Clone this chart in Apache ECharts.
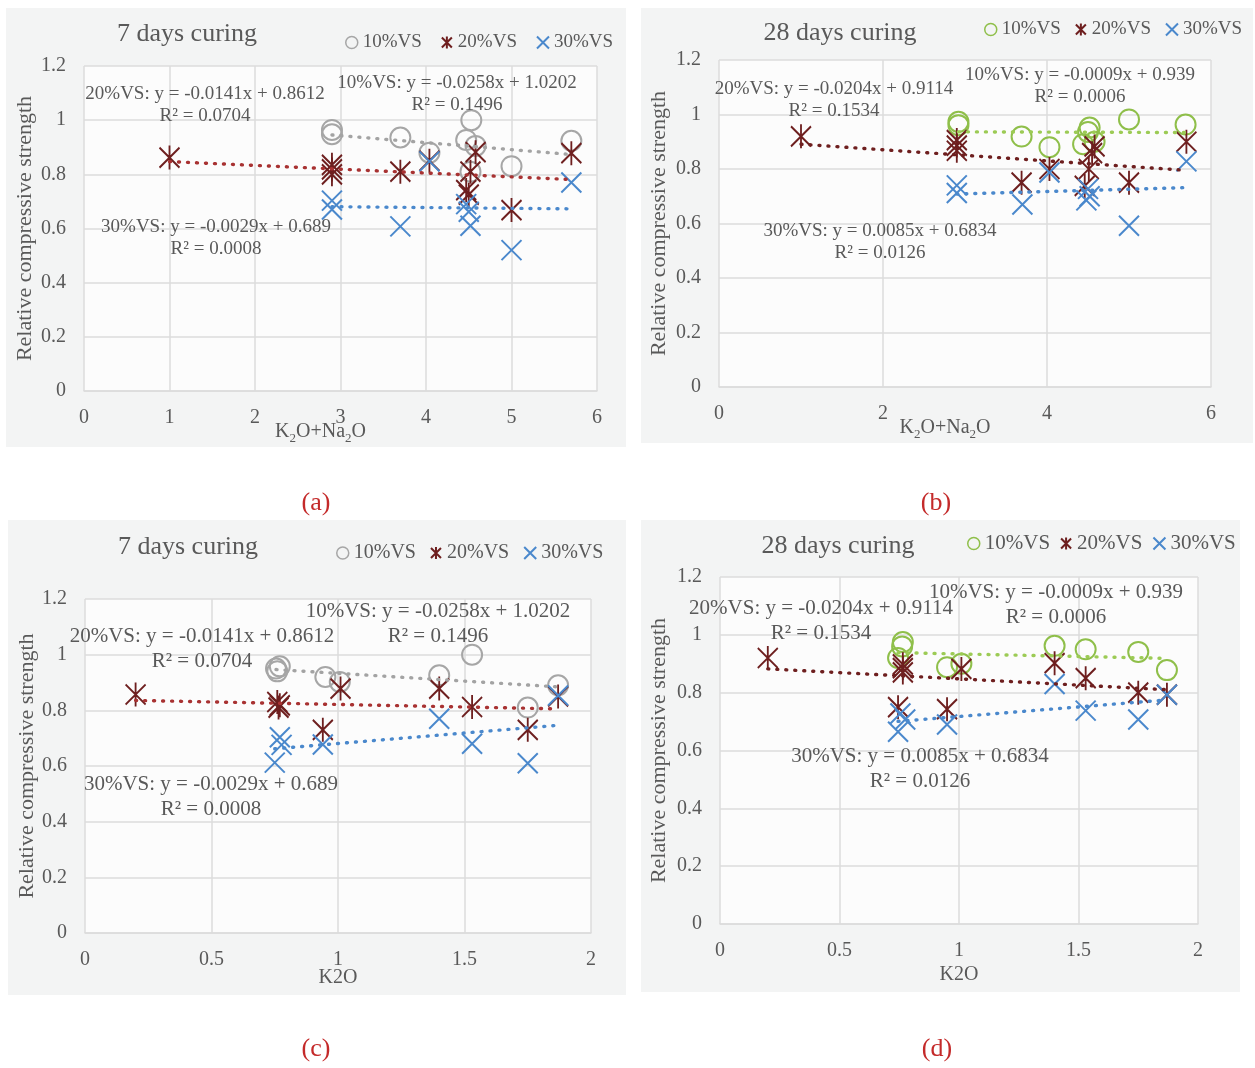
<!DOCTYPE html>
<html>
<head>
<meta charset="utf-8">
<script src="https://cdn.jsdelivr.net/npm/echarts@6/dist/echarts.min.js"></script>
<style>
  html, body { margin: 0; padding: 0; background: #ffffff; }
  #chart { width: 1255px; height: 1068px; }
</style>
</head>
<body>
<div id="chart"></div>
<script>
// ---------------- data ----------------
const seriesNames = ['10%VS', '20%VS', '30%VS'];
const panelTitles = ['7 days curing', '28 days curing', '7 days curing', '28 days curing'];
const panelCaptions = ['(a)', '(b)', '(c)', '(d)'];
const yAxisName = 'Relative compressive strength';

// tick labels
const yTicks = [0, 0.2, 0.4, 0.6, 0.8, 1, 1.2];
const xTicksA = [0, 1, 2, 3, 4, 5, 6];
const xTicksB = [0, 2, 4, 6];
const xTicksK2O = [0, 0.5, 1, 1.5, 2];

// (a) 7 days curing vs K2O+Na2O
const a10x = [2.9, 2.9, 3.7, 4.04, 4.47, 4.53, 4.58, 4.52, 5.0, 5.7];
const a10y = [0.964, 0.948, 0.936, 0.88, 0.927, 1.0, 0.905, 0.81, 0.83, 0.924];
const a20x = [1.0, 2.9, 2.9, 2.9, 3.7, 4.04, 4.58, 4.52, 4.47, 4.5, 5.0, 5.7];
const a20y = [0.862, 0.835, 0.818, 0.80, 0.81, 0.85, 0.882, 0.81, 0.742, 0.725, 0.668, 0.878];
const a30x = [2.9, 2.9, 3.7, 4.04, 4.47, 4.5, 4.52, 5.0, 5.7];
const a30y = [0.703, 0.67, 0.608, 0.848, 0.69, 0.662, 0.61, 0.52, 0.77];

// (b) 28 days curing vs K2O+Na2O
const b10x = [2.92, 2.92, 3.69, 4.03, 4.52, 4.5, 4.44, 4.58, 5.0, 5.69];
const b10y = [0.973, 0.961, 0.919, 0.88, 0.952, 0.936, 0.891, 0.9, 0.982, 0.963];
const b20x = [1.0, 2.9, 2.9, 2.9, 3.69, 4.03, 4.58, 4.55, 4.51, 4.46, 5.0, 5.7];
const b20y = [0.92, 0.906, 0.886, 0.867, 0.75, 0.80, 0.883, 0.858, 0.80, 0.738, 0.75, 0.90];
const b30x = [2.9, 2.9, 3.7, 4.03, 4.5, 4.52, 4.48, 5.0, 5.7];
const b30y = [0.74, 0.712, 0.67, 0.787, 0.727, 0.70, 0.685, 0.592, 0.828];

// (c) 7 days curing vs K2O
const c10x = [0.755, 0.77, 0.76, 0.95, 1.007, 1.40, 1.53, 1.75, 1.87];
const c10y = [0.95, 0.958, 0.94, 0.92, 0.902, 0.926, 1.0, 0.81, 0.89];
const c20x = [0.2, 0.76, 0.77, 0.765, 0.94, 1.01, 1.40, 1.53, 1.75, 1.87];
const c20y = [0.857, 0.83, 0.818, 0.81, 0.73, 0.878, 0.878, 0.812, 0.73, 0.85];
const c30x = [0.77, 0.777, 0.75, 0.94, 1.40, 1.53, 1.75, 1.87];
const c30y = [0.703, 0.676, 0.612, 0.677, 0.77, 0.68, 0.61, 0.853];

// (d) 28 days curing vs K2O
const d10x = [0.765, 0.762, 0.745, 0.95, 1.01, 1.40, 1.53, 1.75, 1.87];
const d10y = [0.975, 0.96, 0.92, 0.888, 0.90, 0.962, 0.95, 0.941, 0.878];
const d20x = [0.2, 0.765, 0.765, 0.765, 0.745, 0.95, 1.01, 1.40, 1.53, 1.75, 1.87];
const d20y = [0.92, 0.898, 0.885, 0.87, 0.75, 0.743, 0.882, 0.902, 0.85, 0.80, 0.793];
const d30x = [0.755, 0.775, 0.745, 0.95, 1.40, 1.53, 1.75, 1.87];
const d30y = [0.728, 0.707, 0.665, 0.69, 0.83, 0.738, 0.707, 0.793];

// fitted equations printed on the charts (10%VS, 20%VS, 30%VS)
const eqSlope7 = [-0.0258, -0.0141, -0.0029];
const eqIntercept7 = [1.0202, 0.8612, 0.689];
const eqR2_7 = ['0.1496', '0.0704', '0.0008'];
const eqSlope28 = [-0.0009, -0.0204, 0.0085];
const eqIntercept28 = [0.939, 0.9114, 0.6834];
const eqR2_28 = ['0.0006', '0.1534', '0.0126'];

// ---------------- styling ----------------
const FONT = '"Liberation Serif", "Times New Roman", serif';
const TEXT = '#595959';
const GRIDLINE = '#dcdcdc';
const PANEL_BG = '#f3f4f4';
const PLOT_BG = '#fcfcfc';

const SYM_CIRCLE = 'circle';
const SYM_STAR = 'path://M0,1L10,11M10,1L0,11M5,0L5,12';
const SYM_CROSS = 'path://M0,0L10,10M10,0L0,10';
const symbols = [SYM_CIRCLE, SYM_STAR, SYM_CROSS];
const symbolSizes = [20, [20, 24], 20];

const markerGray = ['#a6a6a6', '#6e1f1f', '#4a88cc'];
const markerGreen = ['#8fbf4a', '#6e1f1f', '#4a88cc'];
const trendGray = ['#a3a3a3', '#a83232', '#4a88cc'];
const trendGreen = ['#9ccb55', '#6e1f1f', '#4a88cc'];

function fitLine(xs, ys) {
  const n = xs.length;
  const mx = xs.reduce((s, v) => s + v, 0) / n;
  const my = ys.reduce((s, v) => s + v, 0) / n;
  let sxy = 0, sxx = 0;
  for (let i = 0; i < n; i++) {
    sxy += (xs[i] - mx) * (ys[i] - my);
    sxx += (xs[i] - mx) * (xs[i] - mx);
  }
  const slope = sxy / sxx;
  return { slope: slope, intercept: my - slope * mx };
}

function eqText(i, slopes, intercepts, r2s) {
  return seriesNames[i] + ': y = ' + String(slopes[i]) + 'x + ' + String(intercepts[i]) + '\nR\u00B2 = ' + r2s[i];
}

// panel layout (pixel positions only)
const panels = [
  {
    xs: [a10x, a20x, a30x], ys: [a10y, a20y, a30y], xTicks: xTicksA, sumAxis: true,
    coef: [0, 1, 2].map(i => ({ slope: eqSlope7[i], intercept: eqIntercept7[i] })),
    eq: [0, 1, 2].map(i => eqText(i, eqSlope7, eqIntercept7, eqR2_7)),
    markers: markerGray, trends: trendGray,
    bg: [6, 8, 620, 439], grid: [84, 66, 513, 325],
    title: [187, 21], legend: { left: 345, top: 33, size: 19, gap: 19 },
    eqPos: [[457, 83], [205, 94], [216, 227]], eqFont: 19, eqLH: 22,
    caption: [316, 503], xNameGap: 28, xNamePad: 40, yNameGap: 48
  },
  {
    xs: [b10x, b20x, b30x], ys: [b10y, b20y, b30y], xTicks: xTicksB, sumAxis: true,
    coef: [0, 1, 2].map(i => ({ slope: eqSlope28[i], intercept: eqIntercept28[i] })),
    eq: [0, 1, 2].map(i => eqText(i, eqSlope28, eqIntercept28, eqR2_28)),
    markers: markerGreen, trends: trendGreen,
    bg: [641, 8, 612, 435], grid: [719, 60, 492, 327],
    title: [840, 20], legend: { left: 984, top: 20, size: 19, gap: 14 },
    eqPos: [[1080, 75], [834, 89], [880, 231]], eqFont: 19, eqLH: 22,
    caption: [936, 503], xNameGap: 28, xNamePad: 40, yNameGap: 49
  },
  {
    xs: [c10x, c20x, c30x], ys: [c10y, c20y, c30y], xTicks: xTicksK2O, sumAxis: false,
    coef: [0, 1, 2].map(i => fitLine([c10x, c20x, c30x][i], [c10y, c20y, c30y][i])),
    eq: [0, 1, 2].map(i => eqText(i, eqSlope7, eqIntercept7, eqR2_7)),
    markers: markerGray, trends: trendGray,
    bg: [8, 520, 618, 475], grid: [85, 599, 506, 334],
    title: [188, 534], legend: { left: 336, top: 543, size: 20, gap: 14 },
    eqPos: [[438, 611], [202, 636], [211, 784]], eqFont: 21, eqLH: 25,
    caption: [316, 1049], xNameGap: 32, xNamePad: 0, yNameGap: 47
  },
  {
    xs: [d10x, d20x, d30x], ys: [d10y, d20y, d30y], xTicks: xTicksK2O, sumAxis: false,
    coef: [0, 1, 2].map(i => fitLine([d10x, d20x, d30x][i], [d10y, d20y, d30y][i])),
    eq: [0, 1, 2].map(i => eqText(i, eqSlope28, eqIntercept28, eqR2_28)),
    markers: markerGreen, trends: trendGreen,
    bg: [641, 520, 599, 472], grid: [720, 577, 478, 347],
    title: [838, 533], legend: { left: 967, top: 533, size: 21, gap: 10 },
    eqPos: [[1056, 592], [821, 608], [920, 756]], eqFont: 21, eqLH: 25,
    caption: [937, 1049], xNameGap: 38, xNamePad: 0, yNameGap: 50
  }
];

// ---------------- option ----------------
const grids = [], xAxes = [], yAxes = [], titles = [], legends = [], series = [], graphics = [];

panels.forEach((p, pi) => {
  graphics.push({
    type: 'rect', z: -10, silent: true,
    shape: { x: p.bg[0], y: p.bg[1], width: p.bg[2], height: p.bg[3] },
    style: { fill: PANEL_BG }
  });

  grids.push({
    left: p.grid[0], top: p.grid[1], width: p.grid[2], height: p.grid[3],
    show: true, backgroundColor: PLOT_BG, borderWidth: 0,
    containLabel: false, outerBoundsMode: 'none'
  });

  const xt = p.xTicks;
  xAxes.push({
    type: 'value', gridIndex: pi,
    min: xt[0], max: xt[xt.length - 1], interval: xt[1] - xt[0],
    axisLine: { show: true, lineStyle: { color: GRIDLINE, width: 1.5 } },
    axisTick: { show: false },
    splitLine: { show: true, lineStyle: { color: GRIDLINE, width: 1.5 } },
    axisLabel: { color: TEXT, fontFamily: FONT, fontSize: 20, margin: 17 },
    name: p.sumAxis ? 'K{s|2}O+Na{s|2}O' : 'K2O',
    nameLocation: 'middle', nameGap: p.xNameGap, nameMoveOverlap: false,
    nameTextStyle: {
      color: TEXT, fontFamily: FONT, fontSize: 20, lineHeight: 26,
      padding: [0, p.xNamePad, 0, 0],
      rich: { s: { color: TEXT, fontFamily: FONT, fontSize: 13, lineHeight: 13, verticalAlign: 'bottom' } }
    }
  });

  yAxes.push({
    type: 'value', gridIndex: pi,
    min: yTicks[0], max: yTicks[yTicks.length - 1], interval: yTicks[1] - yTicks[0],
    axisLine: { show: false },
    axisTick: { show: false },
    splitLine: { show: true, lineStyle: { color: GRIDLINE, width: 1.5 } },
    axisLabel: { color: TEXT, fontFamily: FONT, fontSize: 20, margin: 18 },
    name: yAxisName, nameLocation: 'middle', nameGap: p.yNameGap, nameMoveOverlap: false,
    nameTextStyle: { color: TEXT, fontFamily: FONT, fontSize: 22 }
  });

  titles.push({
    text: panelTitles[pi], left: p.title[0], top: p.title[1], textAlign: 'center', padding: 0,
    textStyle: { color: TEXT, fontFamily: FONT, fontSize: 26, fontWeight: 'normal' }
  });

  legends.push({
    left: p.legend.left, top: p.legend.top, width: 330, padding: 0, orient: 'horizontal',
    itemWidth: 12, itemHeight: 12, itemGap: p.legend.gap, selectedMode: false,
    textStyle: { color: TEXT, fontFamily: FONT, fontSize: p.legend.size },
    data: seriesNames.map((n, k) => ({
      name: n, icon: symbols[k],
      itemStyle: { color: 'transparent', borderColor: p.markers[k], borderWidth: k === 0 ? 1.5 : 2 }
    }))
  });

  // markers
  for (let k = 0; k < 3; k++) {
    series.push({
      type: 'scatter', name: seriesNames[k], xAxisIndex: pi, yAxisIndex: pi,
      data: p.xs[k].map((x, i) => [x, p.ys[k][i]]),
      symbol: symbols[k], symbolSize: symbolSizes[k], symbolKeepAspect: false,
      itemStyle: { color: 'transparent', borderColor: p.markers[k], borderWidth: 2, opacity: 1 },
      emphasis: { disabled: true }, silent: true, z: 2
    });
  }
  // linear trend lines
  for (let k = 0; k < 3; k++) {
    const xs = p.xs[k];
    const x0 = Math.min.apply(null, xs), x1 = Math.max.apply(null, xs);
    const c = p.coef[k];
    series.push({
      type: 'line', name: 'Linear (' + seriesNames[k] + ')', xAxisIndex: pi, yAxisIndex: pi,
      data: [[x0, c.intercept + c.slope * x0], [x1, c.intercept + c.slope * x1]],
      symbol: 'none', showSymbol: false, silent: true, z: 3,
      lineStyle: { color: p.trends[k], width: 3.4, type: [1, 8], cap: 'round' },
      emphasis: { disabled: true }
    });
  }

  // fitted equations
  for (let k = 0; k < 3; k++) {
    graphics.push({
      type: 'text', z: 50, silent: true,
      style: {
        text: p.eq[k], x: p.eqPos[k][0], y: p.eqPos[k][1] - p.eqLH / 2,
        align: 'center', verticalAlign: 'top', lineHeight: p.eqLH,
        fontSize: p.eqFont, fontFamily: FONT, fill: TEXT
      }
    });
  }

  // panel caption
  graphics.push({
    type: 'text', z: 50, silent: true,
    style: {
      text: panelCaptions[pi], x: p.caption[0], y: p.caption[1],
      align: 'center', verticalAlign: 'middle',
      fontSize: 26, fontFamily: FONT, fill: '#c42a2a'
    }
  });
});

const chart = echarts.init(document.getElementById('chart'), null, { renderer: 'canvas' });
chart.setOption({
  animation: false,
  backgroundColor: '#ffffff',
  title: titles,
  legend: legends,
  grid: grids,
  xAxis: xAxes,
  yAxis: yAxes,
  series: series,
  graphic: graphics
});
</script>
</body>
</html>
